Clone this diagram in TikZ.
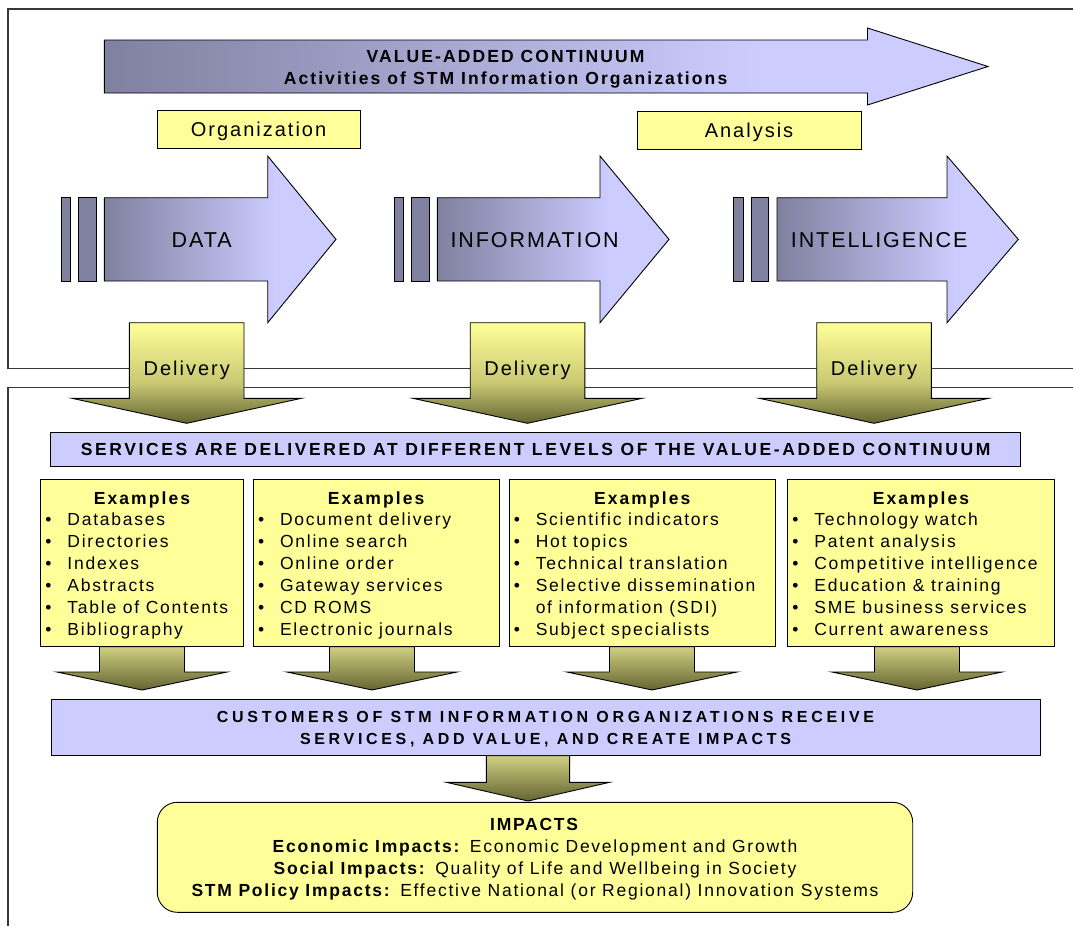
\documentclass[tikz,border=0pt]{standalone}
\usepackage{fontspec}
\setmainfont{Liberation Sans}
\newfontfamily\lsnorm{Liberation Sans}[LetterSpace=10]
\newfontfamily\lswide{Liberation Sans}[LetterSpace=12]
\newfontfamily\lscaps{Liberation Sans}[LetterSpace=15]
\newfontfamily\lsbig{Liberation Sans}[LetterSpace=9]
\newfontfamily\lscust{Liberation Sans}[LetterSpace=23]
\usetikzlibrary{calc}
\definecolor{bardark}{RGB}{128,128,160}
\definecolor{barlight}{RGB}{204,204,255}
\definecolor{paleyellow}{RGB}{255,255,153}
\definecolor{dlvMid}{RGB}{200,200,115}
\definecolor{dlvDark}{RGB}{100,100,50}
\definecolor{feedTop}{RGB}{208,208,130}
\definecolor{frameGray}{RGB}{55,55,55}
\pgfdeclarehorizontalshading{valueflow}{100bp}{color(0bp)=(bardark); color(25bp)=(bardark); color(62bp)=(barlight); color(100bp)=(barlight)}
\pgfdeclareverticalshading{deliveryfade}{100bp}{color(0bp)=(dlvDark); color(25bp)=(dlvDark); color(45bp)=(dlvMid); color(75bp)=(paleyellow); color(100bp)=(paleyellow)}

% block arrows: left x, head x, tip x, mid y, half body, half head
\newcommand{\rightblock}[6]{(#1,#4-#5) -- (#2,#4-#5) -- (#2,#4-#6) -- (#3,#4) -- (#2,#4+#6) -- (#2,#4+#5) -- (#1,#4+#5) -- cycle}
% mid x, top y, head y, tip y, half shaft, half head
\newcommand{\downblock}[6]{(#1-#5,#2) -- (#1+#5,#2) -- (#1+#5,#3) -- (#1+#6,#3) -- (#1,#4) -- (#1-#6,#3) -- (#1-#5,#3) -- cycle}
\newcommand{\itm}[1]{\makebox[22pt][l]{\textbullet}#1}
\newcommand{\cont}[1]{\hspace*{22pt}#1}

\begin{document}
\begin{tikzpicture}[x=1pt, y=-1pt, line join=miter,
  frame/.style={draw=frameGray, line width=1.2pt},
  flowarrow/.style={draw=black, line width=0.9pt, shading=valueflow},
  stopbar/.style={draw=black, line width=0.9pt, fill=bardark},
  delivery/.style={draw=black, line width=0.9pt, shading=deliveryfade},
  feed/.style={draw=black, line width=0.9pt, top color=feedTop, bottom color=dlvDark},
  ybox/.style={draw=black, line width=0.9pt, fill=paleyellow, inner sep=0pt},
  lbar/.style={draw=black, line width=0.9pt, fill=barlight, inner sep=0pt},
  bigword/.style={font=\lsbig\fontsize{21.5}{26}\selectfont, text height=15.4pt, text depth=0pt, inner sep=0pt},
  midword/.style={font=\lsnorm\fontsize{20}{24}\selectfont, text height=14.3pt, text depth=0pt, inner sep=0pt},
  headtxt/.style={font=\lswide\bfseries\fontsize{17.5}{22}\selectfont, text height=12.5pt, text depth=0pt, inner sep=0pt},
  capstxt/.style={font=\lscaps\bfseries\fontsize{17.5}{22}\selectfont, text height=12.5pt, text depth=0pt, inner sep=0pt},
  itemtxt/.style={font=\lsnorm\fontsize{17.5}{22}\selectfont, text height=12.5pt, text depth=0pt, inner sep=0pt, anchor=west},
  custtxt/.style={font=\lscust\bfseries\fontsize{16}{22}\selectfont, text height=33.5pt, text depth=0pt, inner sep=0pt},
  imptxt/.style={font=\lsnorm\fontsize{17.5}{22.2}\selectfont, text height=79.1pt, text depth=0pt, inner sep=0pt}]

  \useasboundingbox (0,0) rectangle (1073,926);

  % Frames
  \draw[frame] (1073,9) -- (8,9) -- (8,368.3) -- (1073,368.3);
  \draw[frame] (1073,387.3) -- (8,387.3) -- (8,926);

  % Value-added continuum
  \draw[flowarrow] \rightblock{104.3}{867.5}{988}{66.5}{26.5}{38.5};
  \node[headtxt, align=center, text height=34.5pt] (vac) at (505.5,67.5)
    {VALUE-ADDED CONTINUUM\\Activities of STM Information Organizations};

  \node[ybox, midword, minimum width=203pt, minimum height=38pt] (org) at (258.5,129) {Organization};
  \node[ybox, midword, minimum width=224pt, minimum height=38pt] (ana) at (749,130) {Analysis};

  % Levels
  \foreach \s/\hx/\tx/\lbl/\nm in {104.3/267.7/336/DATA/data, 437.3/600/669/INFORMATION/info, 777/947/1018.3/INTELLIGENCE/intel}{
    \draw[stopbar] (\s-43.3,197.7) rectangle (\s-33.7,281);
    \draw[stopbar] (\s-25.8,197.7) rectangle (\s-8.2,281);
    \draw[flowarrow] \rightblock{\s}{\hx}{\tx}{239.35}{41.65}{83.35};
    \node[bigword] (\nm) at ({(\s+\tx)/2-18.5},239.3) {\lbl};
  }

  % Delivery
  \foreach \cx/\nm in {186.7/dlv1, 527.5/dlv2, 874/dlv3}{
    \draw[delivery] \downblock{\cx}{322.7}{398.3}{423.3}{57.3}{114.7};
    \node[midword] (\nm) at (\cx,368.2) {Delivery};
  }

  \node[lbar, capstxt, minimum width=970pt, minimum height=34.4pt] (srv) at (535.65,449.5)
    {SERVICES ARE DELIVERED AT DIFFERENT LEVELS OF THE VALUE-ADDED CONTINUUM};

  % Example boxes
  \foreach \l/\r/\nm/\cx in {40.7/243.3/ex1/142, 253.3/499/ex2/372, 509/775.4/ex3/652, 787.6/1054.3/ex4/917}{
    \draw[feed] \downblock{\cx}{646.7}{672}{690}{42.5}{85};
    \node[ybox, minimum width={\r-\l}, minimum height=167.4pt] (\nm) at ({(\l+\r)/2},563) {};
    \node[headtxt] (\nm-h) at ($(\nm.north)+(0,19)$) {Examples};
  }
  \foreach \t [count=\i from 0] in {Databases, Directories, Indexes, Abstracts, Table of Contents, Bibliography}
    \node[itemtxt] (ex1-\i) at ($(ex1.north west)+(5,40.7+21.9*\i)$) {\itm{\t}};
  \foreach \t [count=\i from 0] in {Document delivery, Online search, Online order, Gateway services, CD ROMS, Electronic journals}
    \node[itemtxt] (ex2-\i) at ($(ex2.north west)+(5,40.7+21.9*\i)$) {\itm{\t}};
  \foreach \t [count=\i from 0] in {\itm{Scientific indicators}, \itm{Hot topics}, \itm{Technical translation}, \itm{Selective dissemination}, \cont{of information (SDI)}, \itm{Subject specialists}}
    \node[itemtxt] (ex3-\i) at ($(ex3.north west)+(5,40.7+21.9*\i)$) {\t};
  \foreach \t [count=\i from 0] in {Technology watch, Patent analysis, Competitive intelligence, Education \& training, SME business services, Current awareness}
    \node[itemtxt] (ex4-\i) at ($(ex4.north west)+(5,40.7+21.9*\i)$) {\itm{\t}};

  % Customers and impacts
  \node[lbar, custtxt, align=center, minimum width=989pt, minimum height=56.7pt] (cust) at (545.5,727.35)
    {CUSTOMERS OF STM INFORMATION ORGANIZATIONS RECEIVE\\SERVICES, ADD VALUE, AND CREATE IMPACTS};
  \draw[feed] \downblock{528}{755.7}{782.3}{801}{41.6}{81.7};
  \node[ybox, imptxt, rounded corners=20pt, align=center, minimum width=755.4pt, minimum height=110pt] (imp) at (535,857.3)
    {\textbf{IMPACTS}\\
     \textbf{Economic Impacts:} Economic Development and Growth\\
     \textbf{Social Impacts:} Quality of Life and Wellbeing in Society\\
     \textbf{STM Policy Impacts:} Effective National (or Regional) Innovation Systems};
\end{tikzpicture}
\end{document}
